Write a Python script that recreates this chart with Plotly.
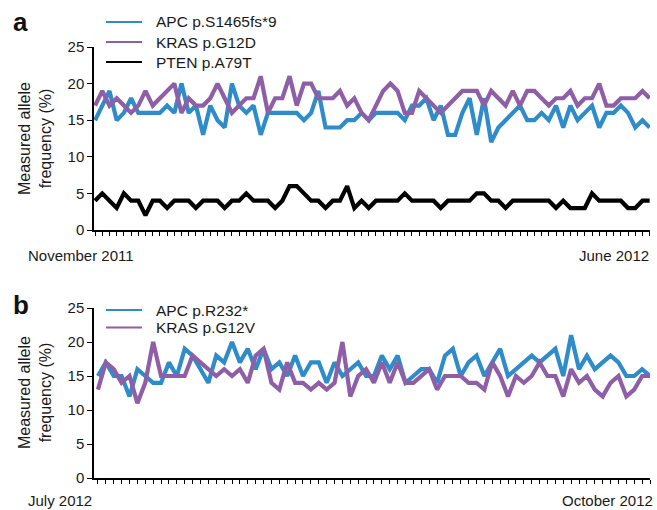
import plotly.graph_objects as go

# ---------------- data ----------------
apc_a = [15, 17, 19, 15, 16, 18, 16, 16, 16, 16, 17, 16, 20, 16, 17, 13, 17, 15, 14, 20,
         17, 16, 17, 13, 16, 16, 16, 16, 16, 15, 16, 19, 14, 14, 14, 15, 15, 16, 15, 16,
         16, 16, 16, 15, 17, 17, 18, 15, 17, 13, 13, 16, 18, 13, 18, 12, 14, 15, 16, 17,
         15, 15, 16, 15, 17, 14, 17, 15, 16, 17, 14, 16, 16, 17, 16, 14, 15, 14]
kras_a = [17, 19, 17, 18, 17, 16, 17, 19, 17, 18, 19, 20, 16, 18, 17, 17, 18, 20, 18, 16,
          17, 18, 18, 21, 16, 18, 18, 21, 17, 20, 20, 18, 18, 18, 19, 17, 18, 16, 15, 17,
          19, 20, 19, 16, 16, 19, 18, 17, 16, 17, 18, 19, 19, 19, 17, 19, 18, 17, 19, 17,
          19, 19, 18, 17, 18, 18, 19, 17, 18, 18, 20, 17, 17, 18, 18, 18, 19, 18]
pten_a = [4, 5, 4, 3, 5, 4, 4, 2, 4, 4, 3, 4, 4, 4, 3, 4, 4, 4, 3, 4,
          4, 5, 4, 4, 4, 3, 4, 6, 6, 5, 4, 4, 3, 4, 4, 6, 3, 4, 3, 4,
          4, 4, 4, 5, 4, 4, 4, 4, 3, 4, 4, 4, 4, 5, 5, 4, 4, 3, 4, 4,
          4, 4, 4, 4, 3, 4, 3, 3, 3, 5, 4, 4, 4, 4, 3, 3, 4, 4]

apc_b = [15, 17, 15, 15, 12, 16, 15, 14, 14, 17, 15, 19, 18, 16, 14, 18, 17, 20, 17, 19,
         16, 19, 16, 17, 15, 18, 15, 17, 17, 14, 17, 15, 16, 17, 15, 15, 18, 16, 18, 14,
         15, 16, 16, 14, 18, 19, 15, 17, 18, 15, 17, 19, 15, 16, 17, 18, 17, 18, 19, 15,
         21, 16, 18, 16, 17, 18, 17, 15, 15, 16, 15]
kras_b = [13, 17, 16, 14, 15, 11, 14, 20, 15, 15, 15, 15, 18, 17, 16, 15, 16, 15, 16, 14,
          18, 19, 14, 13, 17, 14, 14, 13, 14, 13, 14, 20, 12, 15, 16, 14, 17, 14, 17, 14,
          14, 15, 16, 13, 15, 15, 15, 14, 14, 13, 17, 15, 12, 15, 14, 15, 17, 15, 15, 12,
          16, 14, 15, 13, 12, 14, 15, 12, 13, 15, 15]

y_ticks = [0, 5, 10, 15, 20, 25]
labels_a = ["APC p.S1465fs*9", "KRAS p.G12D", "PTEN p.A79T"]
labels_b = ["APC p.R232*", "KRAS p.G12V"]
dates_a = ["November 2011", "June 2012"]
dates_b = ["July 2012", "October 2012"]

BLUE = "#2f8cc8"
PURPLE = "#8e5fa6"
BLACK = "#000000"
TXT = "#1a1a1a"
FONT = "Liberation Sans, Arial, sans-serif"

W, H = 657, 510
L, R = 94, 7


def px(x):
    return (x - L) / (W - L - R)


def py(y):
    return 1 - y / H


fig = go.Figure()

xa = list(range(len(apc_a)))
xb = list(range(len(apc_b)))

for ys, c in [(apc_a, BLUE), (kras_a, PURPLE), (pten_a, BLACK)]:
    fig.add_trace(go.Scatter(x=xa, y=ys, mode="lines", line=dict(color=c, width=4.2),
                             showlegend=False, xaxis="x", yaxis="y", hoverinfo="skip"))
for ys, c in [(apc_b, BLUE), (kras_b, PURPLE)]:
    fig.add_trace(go.Scatter(x=xb, y=ys, mode="lines", line=dict(color=c, width=4.2),
                             showlegend=False, xaxis="x2", yaxis="y2", hoverinfo="skip"))

axis_common = dict(showgrid=False, zeroline=False, showline=True, linecolor="black", linewidth=1.5,
                   ticks="outside", tickcolor="black", tickwidth=1, mirror=False, automargin=False,
                   tickfont=dict(size=15, family=FONT, color=TXT))

fig.update_layout(
    width=W, height=H,
    margin=dict(l=L, r=R, t=0, b=0, autoexpand=False),
    paper_bgcolor="white", plot_bgcolor="white",
    font=dict(family=FONT, size=15, color=TXT),
    showlegend=False,
    xaxis=dict(domain=[0, 1], range=[-0.15, len(apc_a) - 0.95], tickvals=xa, showticklabels=False,
               ticklen=4, anchor="y", **axis_common),
    yaxis=dict(domain=[py(230), py(47)], range=[0, 25], tickvals=y_ticks, ticklen=5,
               anchor="x", **axis_common),
    xaxis2=dict(domain=[0, 1], range=[-0.5, len(apc_b) - 1], tickvals=xb, showticklabels=False,
                ticklen=4, anchor="y2", **axis_common),
    yaxis2=dict(domain=[py(478), py(308)], range=[0, 25], tickvals=y_ticks, ticklen=5,
                anchor="x2", **axis_common),
)

ann = []
shapes = []


def legend_block(labels, colors, rows_y):
    for lab, c, yy in zip(labels, colors, rows_y):
        shapes.append(dict(type="line", xref="paper", yref="paper", x0=px(106), x1=px(142),
                           y0=py(yy), y1=py(yy), line=dict(color=c, width=2)))
        ann.append(dict(text=lab, x=px(154), y=py(yy), xref="paper", yref="paper", xanchor="left",
                        yanchor="middle", showarrow=False, font=dict(size=15.5, family=FONT, color=TXT)))


legend_block(labels_a, [BLUE, PURPLE, BLACK], [22, 42, 62])
legend_block(labels_b, [BLUE, PURPLE], [310, 327.5])

# panel letters
ann.append(dict(text="<b>a</b>", x=px(11), y=py(22), xref="paper", yref="paper", xanchor="left",
                yanchor="middle", showarrow=False, font=dict(size=26, family=FONT, color="#111")))
ann.append(dict(text="<b>b</b>", x=px(11), y=py(305), xref="paper", yref="paper", xanchor="left",
                yanchor="middle", showarrow=False, font=dict(size=26, family=FONT, color="#111")))
# y titles
for yc in [139, 393]:
    ann.append(dict(text="Measured allele<br>frequency (%)", x=px(35), y=py(yc), xref="paper", yref="paper",
                    xanchor="center", yanchor="middle", showarrow=False, textangle=-90,
                    font=dict(size=16, family=FONT, color=TXT)))
# date labels
ann.append(dict(text=dates_a[0], x=px(26), y=py(255), xref="paper", yref="paper", xanchor="left",
                yanchor="middle", showarrow=False, font=dict(size=15, family=FONT, color=TXT)))
ann.append(dict(text=dates_a[1], x=px(651), y=py(255), xref="paper", yref="paper", xanchor="right",
                yanchor="middle", showarrow=False, font=dict(size=15, family=FONT, color=TXT)))
ann.append(dict(text=dates_b[0], x=px(26), y=py(500), xref="paper", yref="paper", xanchor="left",
                yanchor="middle", showarrow=False, font=dict(size=15, family=FONT, color=TXT)))
ann.append(dict(text=dates_b[1], x=px(655), y=py(500), xref="paper", yref="paper", xanchor="right",
                yanchor="middle", showarrow=False, font=dict(size=15, family=FONT, color=TXT)))
fig.update_layout(annotations=ann, shapes=shapes)

fig.write_html("out.html", config={"displayModeBar": False},
               post_script="document.body.style.margin='0';document.body.style.padding='0';")
